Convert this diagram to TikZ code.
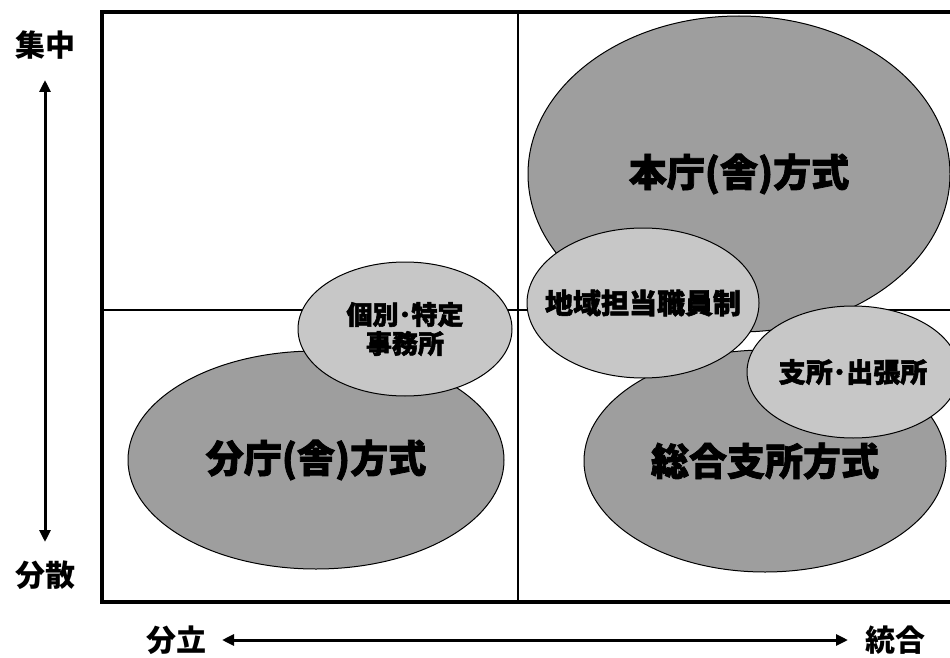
\documentclass[tikz,border=0pt]{standalone}
\usepackage{fontspec}
\usetikzlibrary{shapes.geometric,arrows.meta}
\newfontfamily\cjk{Noto Sans CJK JP}[BoldFeatures={FakeBold=2}]
\newfontfamily\cjkax{Noto Sans CJK JP}
\tikzset{
  big/.style={ellipse, draw=black, line width=1pt, fill=black!38, inner sep=0pt, font=\cjk\bfseries\fontsize{38pt}{40pt}\selectfont},
  small/.style={ellipse, draw=black, line width=1pt, fill=black!22, inner sep=0pt, align=center, font=\cjk\bfseries\fontsize{26pt}{29pt}\selectfont},
  axislabel/.style={font=\cjkax\bfseries\fontsize{30pt}{32pt}\selectfont, inner sep=0pt},
  axis/.style={line width=3pt, {Triangle[length=12pt,width=11pt]}-{Triangle[length=12pt,width=11pt]}},
}
\begin{document}
\begin{tikzpicture}[x=1pt,y=-1pt]
\useasboundingbox (0,0) rectangle (950,658);
% frame
\coordinate (tl) at (102,12);
\coordinate (tr) at (955,12);
\coordinate (bl) at (102,602);
\coordinate (br) at (955,602);
\coordinate (vt) at (518,12);
\coordinate (vb) at (518,602);
\coordinate (hl) at (102,310);
\coordinate (hr) at (955,310);
\draw[line width=2pt] (vt) -- (vb);
\draw[line width=2pt] (hl) -- (hr);
\draw[line width=3.5pt] (tr) -- (tl) -- (bl) -- (br);
% ellipses
\node[big, minimum width=422pt, minimum height=316pt] (honcho) at (739,174) {本庁(舎)方式};
\node[big, minimum width=376pt, minimum height=218pt] (buncho) at (316,460) {分庁(舎)方式};
\node[big, minimum width=362pt, minimum height=222pt] (sogo) at (765,461) {総合支所方式};
\node[small, minimum width=214pt, minimum height=134pt] (kobetsu) at (405,329) {個別･特定\\事務所};
\node[small, minimum width=232pt, minimum height=150pt, inner xsep=-40pt, font=\cjk\bfseries\fontsize{28pt}{30pt}\selectfont] (chiiki) at (643,303) {地域担当職員制};
\node[small, minimum width=212pt, minimum height=132pt, inner xsep=-20pt, font=\cjk\bfseries\fontsize{27pt}{30pt}\selectfont] (shisho) at (853,372) {支所･出張所};
% axes
\node[axislabel] (shuchu) at (45,45) {集中};
\node[axislabel] (bunsan) at (45,575) {分散};
\node[axislabel] (bunritsu) at (176,640) {分立};
\node[axislabel] (togo) at (895,640) {統合};
\coordinate (vtop) at (45,80);
\coordinate (vbot) at (45,542);
\coordinate (hleft) at (222,640);
\coordinate (hright) at (848,640);
\draw[axis] (vtop) -- (vbot);
\draw[axis] (hleft) -- (hright);
\end{tikzpicture}
\end{document}
